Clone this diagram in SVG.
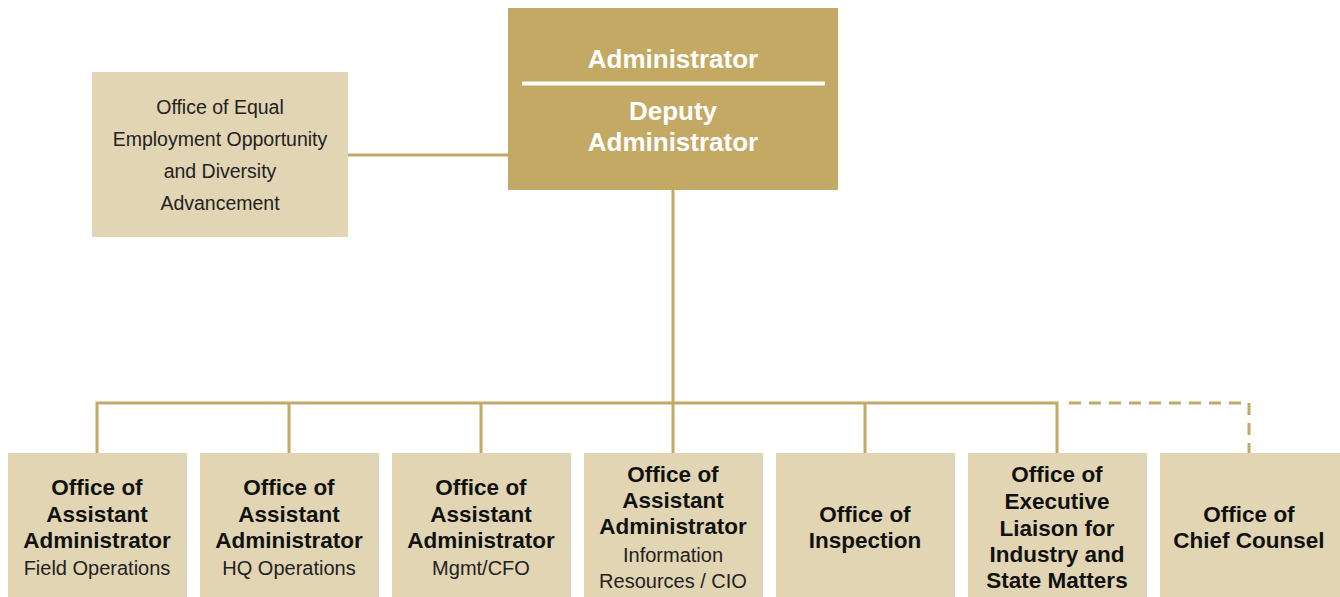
<svg xmlns="http://www.w3.org/2000/svg" width="1340" height="597" viewBox="0 0 1340 597">
<style>
.bg{fill:#ffffff}
.dark{fill:#C4A965}
.light{fill:#E1D5B3}
.ln{stroke:#C4A965;stroke-width:3;fill:none;stroke-linejoin:miter}
.dash{stroke:#C4A965;stroke-width:3;fill:none;stroke-dasharray:12 8}
.tw{font-family:"Liberation Sans",Arial,sans-serif;font-weight:bold;font-size:26px;fill:#ffffff;text-anchor:middle}
.tb{font-family:"Liberation Sans",Arial,sans-serif;font-weight:bold;font-size:22.5px;fill:#111111;text-anchor:middle}
.tl{font-family:"Liberation Sans",Arial,sans-serif;font-size:20px;fill:#222222;text-anchor:middle}
.te{font-family:"Liberation Sans",Arial,sans-serif;font-size:19.5px;fill:#222222;text-anchor:middle}
</style>
<rect class="bg" x="0" y="0" width="1340" height="597"/>
<g id="connectors">
<line class="ln" x1="348" y1="155" x2="508" y2="155"/>
<line class="ln" x1="673" y1="190" x2="673" y2="403"/>
<path class="ln" d="M97,453 V403 H1057 V453"/>
<line class="ln" x1="289" y1="403" x2="289" y2="453"/>
<line class="ln" x1="481" y1="403" x2="481" y2="453"/>
<line class="ln" x1="673" y1="403" x2="673" y2="453"/>
<line class="ln" x1="865" y1="403" x2="865" y2="453"/>
<path class="dash" d="M1069,403 H1249 V453"/>
</g>
<g id="administrator">
<rect class="dark" x="508" y="8" width="330" height="182"/>
<text class="tw" x="673" y="68">Administrator</text>
<rect x="522" y="81.5" width="303" height="4" fill="#ffffff"/>
<text class="tw" x="673" y="120">Deputy</text>
<text class="tw" x="673" y="151">Administrator</text>
</g>
<g id="eeo">
<rect class="light" x="92" y="72" width="256" height="165"/>
<text class="te" x="220" y="114">Office of Equal</text>
<text class="te" x="220" y="146">Employment Opportunity</text>
<text class="te" x="220" y="178">and Diversity</text>
<text class="te" x="220" y="210">Advancement</text>
</g>
<g id="field-ops">
<rect class="light" x="8" y="453" width="179" height="144"/>
<text class="tb" x="97" y="495">Office of</text>
<text class="tb" x="97" y="522">Assistant</text>
<text class="tb" x="97" y="548">Administrator</text>
<text class="tl" x="97" y="575">Field Operations</text>
</g>
<g id="hq-ops">
<rect class="light" x="200" y="453" width="179" height="144"/>
<text class="tb" x="289" y="495">Office of</text>
<text class="tb" x="289" y="522">Assistant</text>
<text class="tb" x="289" y="548">Administrator</text>
<text class="tl" x="289" y="575">HQ Operations</text>
</g>
<g id="mgmt-cfo">
<rect class="light" x="392" y="453" width="179" height="144"/>
<text class="tb" x="481" y="495">Office of</text>
<text class="tb" x="481" y="522">Assistant</text>
<text class="tb" x="481" y="548">Administrator</text>
<text class="tl" x="481" y="575">Mgmt/CFO</text>
</g>
<g id="cio">
<rect class="light" x="584" y="453" width="179" height="144"/>
<text class="tb" x="673" y="482">Office of</text>
<text class="tb" x="673" y="508">Assistant</text>
<text class="tb" x="673" y="534">Administrator</text>
<text class="tl" x="673" y="562">Information</text>
<text class="tl" x="673" y="588">Resources / CIO</text>
</g>
<g id="inspection">
<rect class="light" x="776" y="453" width="179" height="144"/>
<text class="tb" x="865" y="522">Office of</text>
<text class="tb" x="865" y="548">Inspection</text>
</g>
<g id="exec-liaison">
<rect class="light" x="968" y="453" width="179" height="144"/>
<text class="tb" x="1057" y="482">Office of</text>
<text class="tb" x="1057" y="509">Executive</text>
<text class="tb" x="1057" y="536">Liaison for</text>
<text class="tb" x="1057" y="562">Industry and</text>
<text class="tb" x="1057" y="588">State Matters</text>
</g>
<g id="chief-counsel">
<rect class="light" x="1160" y="453" width="180" height="144"/>
<text class="tb" x="1249" y="522">Office of</text>
<text class="tb" x="1249" y="548">Chief Counsel</text>
</g>
</svg>
